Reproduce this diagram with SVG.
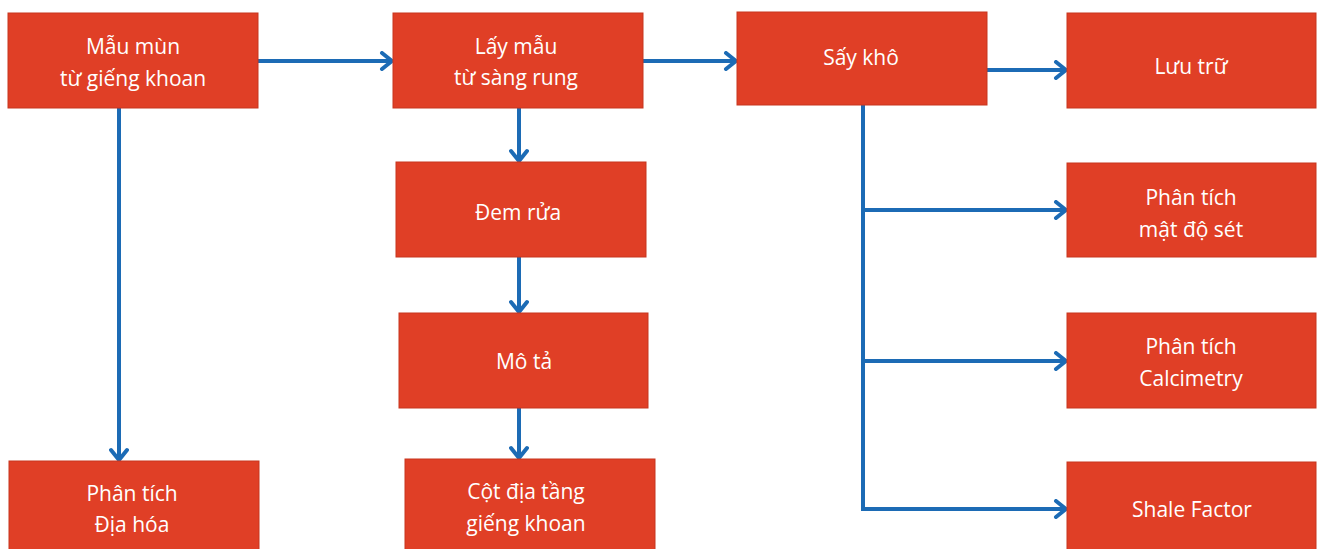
<svg xmlns="http://www.w3.org/2000/svg" width="1319" height="549" viewBox="0 0 1319 549">
<defs>
<marker id="arr" markerUnits="userSpaceOnUse" markerWidth="16" markerHeight="20" refX="13" refY="10" orient="auto">
<path d="M3,2 L13,10 L3,18" fill="none" stroke="#1c6bb5" stroke-width="4" stroke-linecap="round" stroke-linejoin="round"/>
</marker>
</defs>
<style>
.box{fill:#e03f26;stroke:#c7361f;stroke-width:1}
.t{fill:#ffffff;font-family:"Open Sans","Liberation Sans",sans-serif;font-size:21px;text-anchor:middle}
.c{fill:none;stroke:#1c6bb5;stroke-width:4}
</style>
<rect width="1319" height="549" fill="#ffffff"/>
<g id="connectors">
<line class="c" x1="258" y1="61" x2="392" y2="61" marker-end="url(#arr)"/>
<line class="c" x1="643" y1="61" x2="736" y2="61" marker-end="url(#arr)"/>
<line class="c" x1="987" y1="70" x2="1066" y2="70" marker-end="url(#arr)"/>
<line class="c" x1="119" y1="108" x2="119" y2="460" marker-end="url(#arr)"/>
<line class="c" x1="519" y1="108" x2="519" y2="161" marker-end="url(#arr)"/>
<line class="c" x1="519" y1="257" x2="519" y2="312" marker-end="url(#arr)"/>
<line class="c" x1="519" y1="408" x2="519" y2="458" marker-end="url(#arr)"/>
<polyline class="c" points="863,105 863,509 1066,509" marker-end="url(#arr)"/>
<line class="c" x1="863" y1="210" x2="1066" y2="210" marker-end="url(#arr)"/>
<line class="c" x1="863" y1="361" x2="1066" y2="361" marker-end="url(#arr)"/>
</g>
<g id="n1"><rect class="box" x="8" y="13" width="250" height="95"/><text class="t" x="133" y="54">Mẫu mùn</text><text class="t" x="133" y="86">từ giếng khoan</text></g>
<g id="n2"><rect class="box" x="393" y="13" width="250" height="95"/><text class="t" x="516" y="54">Lấy mẫu</text><text class="t" x="516" y="85">từ sàng rung</text></g>
<g id="n3"><rect class="box" x="737" y="12" width="250" height="93"/><text class="t" x="861" y="65">Sấy khô</text></g>
<g id="n4"><rect class="box" x="1067" y="13" width="249" height="95"/><text class="t" x="1191" y="74">Lưu trữ</text></g>
<g id="n5"><rect class="box" x="396" y="162" width="250" height="95"/><text class="t" x="518" y="220">Đem rửa</text></g>
<g id="n6"><rect class="box" x="399" y="313" width="249" height="95"/><text class="t" x="524" y="369">Mô tả</text></g>
<g id="n7"><rect class="box" x="405" y="459" width="250" height="95"/><text class="t" x="526" y="499">Cột địa tầng</text><text class="t" x="526" y="531">giếng khoan</text></g>
<g id="n8"><rect class="box" x="9" y="461" width="250" height="95"/><text class="t" x="132" y="501">Phân tích</text><text class="t" x="132" y="532">Địa hóa</text></g>
<g id="n9"><rect class="box" x="1067" y="163" width="249" height="94"/><text class="t" x="1191" y="205">Phân tích</text><text class="t" x="1191" y="237">mật độ sét</text></g>
<g id="n10"><rect class="box" x="1067" y="313" width="249" height="95"/><text class="t" x="1191" y="354">Phân tích</text><text class="t" x="1191" y="386">Calcimetry</text></g>
<g id="n11"><rect class="box" x="1067" y="462" width="249" height="95"/><text class="t" x="1192" y="517">Shale Factor</text></g>
</svg>
